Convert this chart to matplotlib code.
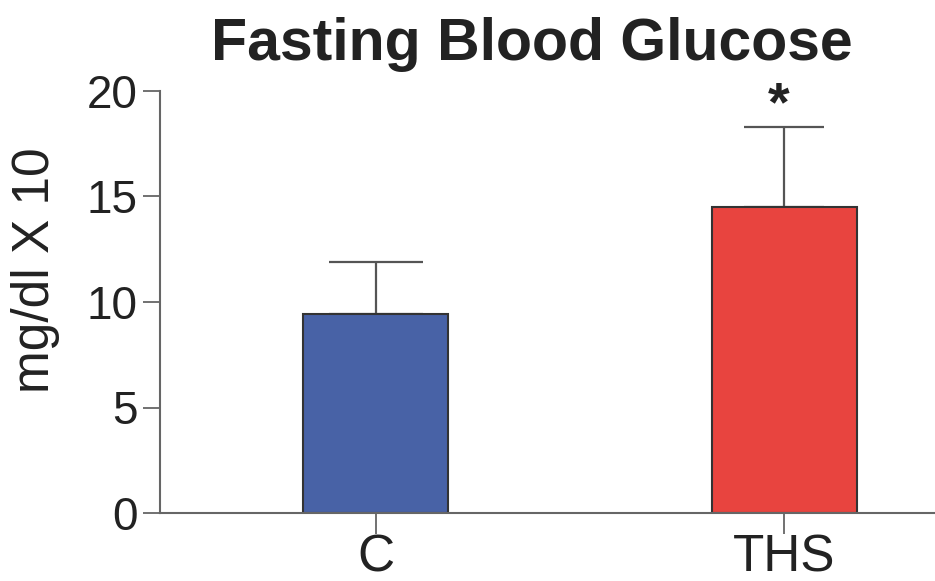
import matplotlib
matplotlib.use("Agg")
import matplotlib.pyplot as plt

plt.rcParams['font.family'] = ['Liberation Sans', 'DejaVu Sans']

groups = ['C', 'THS']
means = [9.43, 14.5]
sem = [2.47, 3.8]
colors = ['#4862a6', '#e8443f']
caps = [34, 29]

fig = plt.figure(figsize=(9.35, 5.81), dpi=100)
ax = fig.add_axes([160/935, 1 - 513/581, 1 - 160/935, (513 - 91)/581])

x = list(range(len(groups)))
ax.bar(x, means, width=0.355, color=colors, edgecolor='#333333', linewidth=1.5, zorder=2)
for xi, m, e, c in zip(x, means, sem, caps):
    ax.errorbar(xi, m, yerr=[[0], [e]], fmt='none', ecolor='#555555',
                elinewidth=1.6, capsize=c, capthick=1.6, zorder=1)

# significance mark
ax.text(0.985, means[1] + sem[1] + 1.0, '*', ha='center', va='center',
        fontsize=40, fontweight='bold', color='#222222', clip_on=False)

ax.set_xlim(-0.527, 1.368)
ax.set_ylim(0, 20)
ax.set_yticks([0, 5, 10, 15, 20])
ax.set_xticks(x)
ax.set_xticklabels(groups)

for s in ['top', 'right']:
    ax.spines[s].set_visible(False)
for s in ['left', 'bottom']:
    ax.spines[s].set_color('#666666')
    ax.spines[s].set_linewidth(1.5)

ax.tick_params(axis='y', length=12, width=1.3, color='#666666', pad=4,
               labelsize=33, labelcolor='#222222')
ax.tick_params(axis='x', length=15, width=1.3, color='#666666', pad=0,
               labelsize=37, labelcolor='#222222')

fig.text(532/935, 1 - 60/581, 'Fasting Blood Glucose', ha='center', va='baseline',
         fontsize=42.5, fontweight='bold', color='#222222')
fig.text(36/935, 1 - 270/581, 'mg/dl X 10', rotation=90, ha='center', va='center',
         fontsize=37, color='#222222')

fig.savefig('out.png', dpi=100)
